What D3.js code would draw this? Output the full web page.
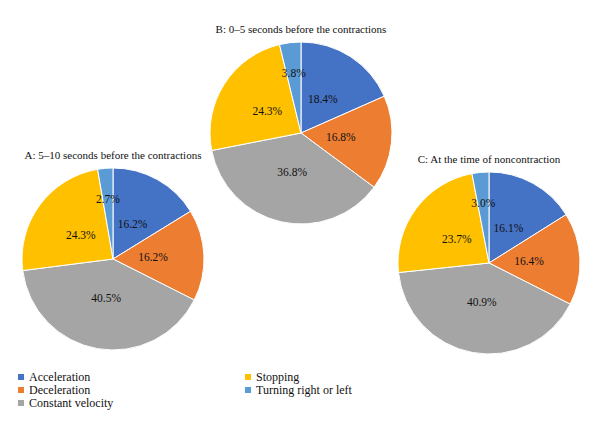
<!DOCTYPE html>
<html><head><meta charset="utf-8">
<script src="https://cdn.jsdelivr.net/npm/d3@7"></script>
<style>body{margin:0;background:#fff;} svg{display:block;}</style>
</head><body>
<svg id="chart" width="600" height="430"></svg>
<script>
const categories = ["Acceleration","Deceleration","Constant velocity","Stopping","Turning right or left"];
const colors = ["#4472C4","#ED7D31","#A5A5A5","#FFC000","#5B9BD5"];
const titles = ["A: 5\u201310 seconds before the contractions","B: 0\u20135 seconds before the contractions","C: At the time of noncontraction"];
const valuesA = [16.2,16.2,40.5,24.3,2.7];
const valuesB = [18.4,16.8,36.8,24.3,3.8];
const valuesC = [16.1,16.4,40.9,23.7,3.0];

const svg = d3.select("#chart");
const font = "'Liberation Serif', 'DejaVu Serif', serif";
const R = 91;
const panels = [
  {vals: valuesA, title: titles[0], cx: 113, cy: 259},
  {vals: valuesB, title: titles[1], cx: 301, cy: 133},
  {vals: valuesC, title: titles[2], cx: 489, cy: 263}
];
const pie = d3.pie().sort(null).value(d => d);
const arc = d3.arc().innerRadius(0).outerRadius(R);
const color = d3.scaleOrdinal().domain(d3.range(categories.length)).range(colors);

panels.forEach(p => {
  const g = svg.append("g").attr("transform", `translate(${p.cx},${p.cy})`);
  const arcs = pie(p.vals);
  g.selectAll("path").data(arcs).join("path")
    .attr("d", arc)
    .attr("fill", (d,i) => color(i))
    .attr("stroke", "#fff").attr("stroke-width", 1);
  g.selectAll("text.lbl").data(arcs).join("text")
    .attr("class","lbl")
    .attr("transform", d => {
      const frac = d.data < 5 ? 0.66 : 0.44;
      const a = (d.startAngle + d.endAngle)/2;
      return `translate(${Math.sin(a)*R*frac},${-Math.cos(a)*R*frac})`;
    })
    .attr("text-anchor","middle").attr("dy","0.35em")
    .style("font-family", font).style("font-size","11.5px").attr("fill","#111")
    .text(d => d.data.toFixed(1) + "%");
  svg.append("text")
    .attr("x", p.cx).attr("y", p.cy - R - 9)
    .attr("text-anchor","middle")
    .style("font-family", font).style("font-size","11px").attr("fill","#111")
    .text(p.title);
});

// legend
const legendPos = [[18,377],[18,390],[18,403],[245,377],[245,390]];
const lg = svg.append("g");
categories.forEach((c,i) => {
  const [x,y] = legendPos[i];
  lg.append("rect").attr("x", x).attr("y", y-3).attr("width",6).attr("height",6).attr("fill", color(i));
  lg.append("text").attr("x", x+11).attr("y", y).attr("dy","0.35em")
    .style("font-family", font).style("font-size","12px").attr("fill","#111").text(c);
});
</script>
</body></html>
